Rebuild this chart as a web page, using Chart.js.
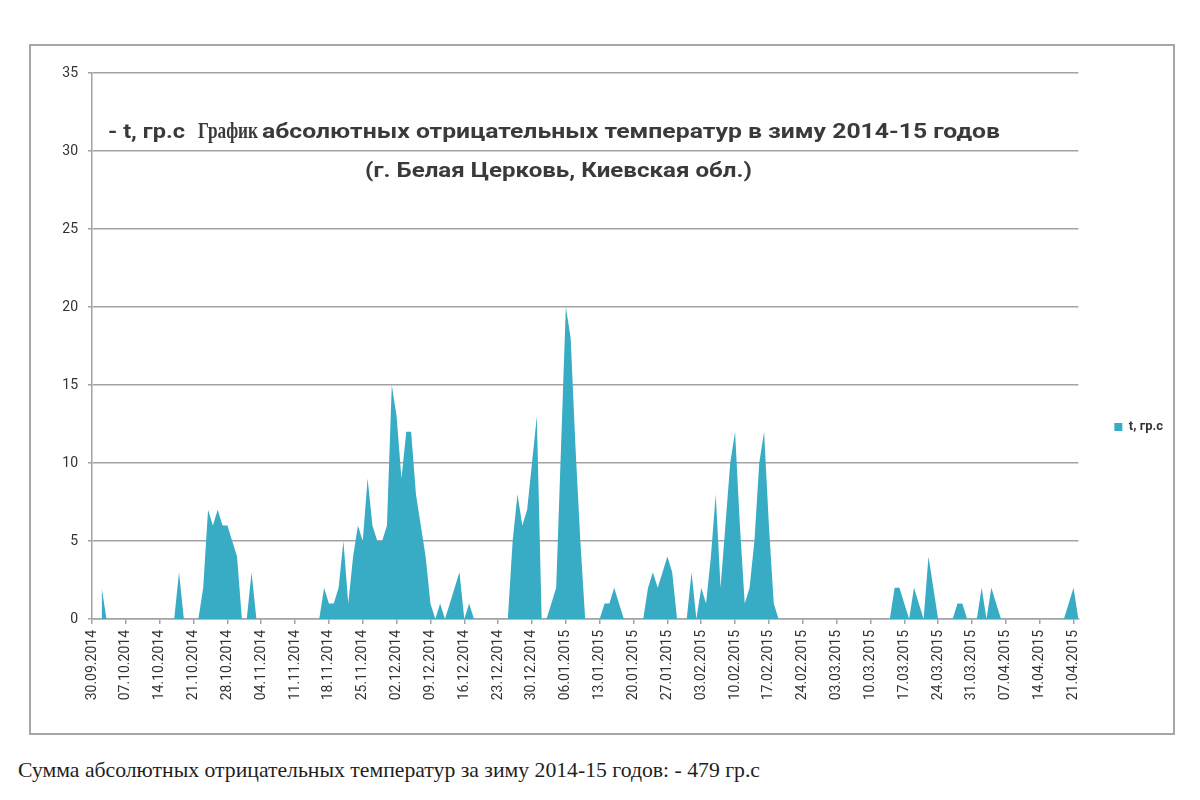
<!DOCTYPE html>
<html><head><meta charset="utf-8">
<script src="https://cdn.jsdelivr.net/npm/chart.js@4"></script>
<style>
html,body{margin:0;padding:0;background:#fff;overflow:hidden;width:1200px;height:800px;}
#frame{position:absolute;left:29px;top:44px;width:1146px;height:691px;border:2px solid #a6a6a6;box-sizing:border-box;}
#chart{display:block;}
#caption{position:absolute;left:18px;top:758px;font-family:'Liberation Serif','DejaVu Serif',serif;font-size:21px;line-height:24px;color:#1e1e1e;white-space:nowrap;transform-origin:0 0;}
</style></head><body>
<div id="frame"><canvas id="chart" width="1142" height="687"></canvas></div>
<div id="caption">Сумма абсолютных отрицательных температур за зиму 2014-15 годов: - 479 гр.с</div>
<script>
const seriesName = 't, гр.с';
const startDay = [2014, 9, 30];
const tickLabels = ['30.09.2014','07.10.2014','14.10.2014','21.10.2014','28.10.2014','04.11.2014','11.11.2014',
  '18.11.2014','25.11.2014','02.12.2014','09.12.2014','16.12.2014','23.12.2014','30.12.2014','06.01.2015',
  '13.01.2015','20.01.2015','27.01.2015','03.02.2015','10.02.2015','17.02.2015','24.02.2015','03.03.2015',
  '10.03.2015','17.03.2015','24.03.2015','31.03.2015','07.04.2015','14.04.2015','21.04.2015'];
// daily values, one row per week starting 30.09.2014
const values = [
  null,null,2,0,0,0,0,
  0,0,0,0,0,0,0,
  0,0,0,0,3,0,0,
  0,0,2,7,6,7,6,
  6,5,4,0,0,3,0,
  0,0,0,0,0,0,0,
  0,0,0,0,0,0,2,
  1,1,2,5,1,4,6,
  5,9,6,5,5,6,15,
  13,9,12,12,8,6,4,
  1,0,1,0,1,2,3,
  0,1,0,0,0,0,0,
  0,0,0,5,8,6,7,
  10,13,0,0,1,2,11,
  20,18,11,5,0,0,0,
  0,1,1,2,1,0,0,
  0,0,0,2,3,2,3,
  4,3,0,0,0,3,0,
  2,1,4,8,2,6,10,
  12,6,1,2,5,10,12,
  6,1,0,0,0,0,0,
  0,0,0,0,0,0,0,
  0,0,0,0,0,0,0,
  0,0,0,0,0,2,2,
  1,0,2,1,0,4,2,
  0,0,0,0,1,1,0,
  0,0,2,0,2,1,0,
  0,0,0,0,0,0,0,
  0,0,0,0,0,0,1,
  2,0
];
const titleLine1 = ['- t, гр.с', 'График', 'абсолютных отрицательных температур в зиму 2014-15 годов'];
const titleLine2 = '(г. Белая Церковь, Киевская обл.)';

const pad2 = n => (n < 10 ? '0' : '') + n;
const categories = values.map((v, i) => {
  const d = new Date(startDay[0], startDay[1] - 1, startDay[2] + i);
  return pad2(d.getDate()) + '.' + pad2(d.getMonth() + 1) + '.' + d.getFullYear();
});

const GRID = '#a3a3a3';
const TEXT = '#333333';
Chart.defaults.font.family = 'Roboto';

function drawFitted(ctx, text, font, x, y, w) {
  ctx.font = font;
  const mw = ctx.measureText(text).width;
  ctx.save();
  ctx.translate(x, y);
  ctx.scale(w / mw, 1);
  ctx.fillText(text, 0, 0);
  ctx.restore();
}

const inlineTitle = {
  id: 'inlineTitle',
  afterDraw(chart) {
    const ctx = chart.ctx;
    ctx.save();
    ctx.fillStyle = '#3a3a3a';
    ctx.textBaseline = 'alphabetic';
    ctx.textAlign = 'left';
    drawFitted(ctx, titleLine1[0], 'bold 21px Roboto', 77, 92, 77);
    drawFitted(ctx, titleLine1[1], 'bold 23px "Liberation Serif"', 167, 92, 60);
    drawFitted(ctx, titleLine1[2], 'bold 21px Roboto', 231, 92, 738);
    drawFitted(ctx, titleLine2, 'bold 21px Roboto', 334, 131, 387);
    ctx.restore();
  }
};

new Chart(document.getElementById('chart'), {
  type: 'line',
  data: {
    labels: categories,
    datasets: [{
      label: seriesName,
      data: values,
      fill: 'origin',
      backgroundColor: '#38acc4',
      borderColor: '#38acc4',
      borderWidth: 0,
      pointRadius: 0,
      tension: 0,
      spanGaps: false
    }]
  },
  options: {
    responsive: false,
    animation: false,
    layout: {padding: {top: 27, left: 0, right: 0, bottom: 20}},
    plugins: {
      tooltip: {enabled: false},
      title: {display: false},
      legend: {
        position: 'right',
        maxWidth: 96,
        title: {display: true, text: ' ', font: {size: 10}, padding: {top: 56, bottom: 0}},
        labels: {boxWidth: 8, boxHeight: 8, padding: 36, color: TEXT, font: {size: 13, weight: 'bold', family: 'Roboto'}}
      }
    },
    scales: {
      x: {
        type: 'category',
        offset: false,
        afterFit(scale) { scale.height = 94; },
        grid: {
          drawOnChartArea: false,
          drawTicks: true,
          tickLength: 5,
          lineWidth: 1.5,
          color: c => (c.tick && c.tick.value % 7 === 0) ? GRID : 'rgba(0,0,0,0)'
        },
        border: {display: true, color: GRID, width: 1.5},
        ticks: {
          autoSkip: false,
          minRotation: 90,
          maxRotation: 90,
          padding: 6,
          color: TEXT,
          font: {size: 14},
          callback: value => (value % 7 === 0 ? tickLabels[value / 7] : '')
        }
      },
      y: {
        min: 0,
        max: 35,
        afterFit(scale) { scale.width = 61; },
        grid: {color: GRID, lineWidth: 1.5, tickLength: 4},
        border: {display: true, color: GRID, width: 1.5},
        ticks: {stepSize: 5, padding: 10, color: TEXT, font: {size: 14}}
      }
    }
  },
  plugins: [inlineTitle]
});

const cap = document.getElementById('caption');
const cw = cap.getBoundingClientRect().width;
if (cw > 0) cap.style.transform = 'scaleX(' + (742 / cw) + ')';
</script>
</body></html>
